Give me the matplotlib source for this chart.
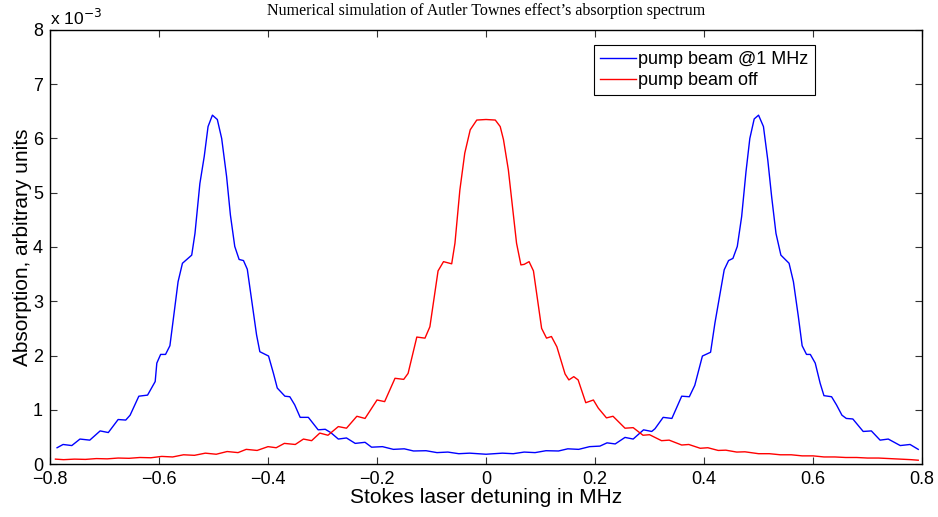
import matplotlib
matplotlib.use('Agg')
import matplotlib.pyplot as plt
from matplotlib.ticker import FuncFormatter

# values, y in units of 1e-3
SCALE = 1e-3

pump_on_x = [-0.787, -0.776, -0.760, -0.745, -0.727, -0.708, -0.693, -0.675,
             -0.661, -0.653, -0.637, -0.621, -0.607, -0.604, -0.597, -0.588,
             -0.580, -0.574, -0.565, -0.557, -0.540, -0.534, -0.525, -0.517,
             -0.510, -0.502, -0.493, -0.485, -0.476, -0.469, -0.461, -0.453,
             -0.445, -0.438, -0.430, -0.421, -0.415, -0.399, -0.390, -0.383,
             -0.369, -0.360, -0.351, -0.341, -0.326, -0.308, -0.295, -0.285,
             -0.271, -0.256, -0.240, -0.222, -0.210, -0.190, -0.170, -0.150,
             -0.133, -0.110, -0.090, -0.070, -0.050, -0.030, 0.000, 0.030,
             0.050, 0.070, 0.090, 0.110, 0.133, 0.150, 0.170, 0.190,
             0.209, 0.222, 0.237, 0.255, 0.270, 0.289, 0.304, 0.310,
             0.325, 0.341, 0.359, 0.373, 0.383, 0.397, 0.412, 0.420,
             0.437, 0.445, 0.453, 0.461, 0.469, 0.477, 0.484, 0.492,
             0.500, 0.509, 0.517, 0.524, 0.532, 0.541, 0.556, 0.564,
             0.573, 0.580, 0.588, 0.595, 0.604, 0.613, 0.620, 0.634,
             0.643, 0.653, 0.661, 0.673, 0.692, 0.707, 0.723, 0.738,
             0.760, 0.778, 0.793]
pump_on_y = [0.30, 0.36, 0.34, 0.46, 0.44, 0.61, 0.58, 0.82,
             0.81, 0.90, 1.25, 1.27, 1.52, 1.86, 2.02, 2.02,
             2.18, 2.65, 3.36, 3.70, 3.85, 4.25, 5.17, 5.67,
             6.22, 6.43, 6.35, 6.00, 5.30, 4.59, 4.01, 3.77,
             3.75, 3.59, 3.02, 2.38, 2.07, 1.99, 1.67, 1.40,
             1.25, 1.24, 1.09, 0.86, 0.86, 0.63, 0.64, 0.58,
             0.46, 0.48, 0.38, 0.40, 0.31, 0.32, 0.27, 0.28,
             0.24, 0.245, 0.21, 0.22, 0.19, 0.20, 0.18, 0.20,
             0.19, 0.22, 0.21, 0.245, 0.24, 0.28, 0.27, 0.32,
             0.33, 0.39, 0.37, 0.49, 0.46, 0.63, 0.60, 0.65,
             0.86, 0.84, 1.25, 1.24, 1.45, 1.99, 2.06, 2.60,
             3.58, 3.75, 3.79, 4.01, 4.56, 5.39, 6.00, 6.36,
             6.43, 6.22, 5.60, 4.93, 4.25, 3.85, 3.70, 3.36,
             2.72, 2.18, 2.02, 2.02, 1.86, 1.49, 1.26, 1.24,
             1.09, 0.90, 0.84, 0.83, 0.60, 0.61, 0.44, 0.46,
             0.34, 0.36, 0.27]

pump_off_x = [-0.790, -0.775, -0.755, -0.735, -0.715, -0.695, -0.675, -0.655,
              -0.635, -0.615, -0.595, -0.575, -0.555, -0.535, -0.515, -0.495,
              -0.475, -0.455, -0.440, -0.420, -0.400, -0.385, -0.370, -0.350,
              -0.335, -0.320, -0.305, -0.290, -0.271, -0.256, -0.237, -0.222,
              -0.200, -0.186, -0.167, -0.151, -0.143, -0.127, -0.112, -0.103,
              -0.088, -0.078, -0.063, -0.057, -0.048, -0.039, -0.029, -0.017,
              0.000, 0.017, 0.026, 0.032, 0.041, 0.056, 0.064, 0.070,
              0.079, 0.087, 0.102, 0.111, 0.120, 0.130, 0.145, 0.152,
              0.161, 0.169, 0.183, 0.197, 0.206, 0.221, 0.233, 0.246,
              0.255, 0.270, 0.288, 0.300, 0.322, 0.336, 0.359, 0.372,
              0.393, 0.407, 0.426, 0.440, 0.460, 0.475, 0.500, 0.520,
              0.540, 0.560, 0.580, 0.600, 0.620, 0.640, 0.660, 0.680,
              0.700, 0.720, 0.740, 0.760, 0.780, 0.793]
pump_off_y = [0.09, 0.08, 0.09, 0.085, 0.10, 0.095, 0.11, 0.105,
              0.12, 0.115, 0.14, 0.13, 0.17, 0.16, 0.20, 0.18,
              0.23, 0.21, 0.27, 0.25, 0.32, 0.30, 0.38, 0.36,
              0.46, 0.43, 0.57, 0.53, 0.69, 0.66, 0.88, 0.84,
              1.18, 1.15, 1.58, 1.56, 1.67, 2.34, 2.32, 2.53,
              3.56, 3.73, 3.69, 4.07, 5.05, 5.73, 6.16, 6.34,
              6.35, 6.34, 6.22, 5.98, 5.42, 4.07, 3.67, 3.68,
              3.73, 3.56, 2.50, 2.32, 2.35, 2.16, 1.66, 1.55,
              1.61, 1.55, 1.13, 1.18, 1.03, 0.85, 0.88, 0.75,
              0.66, 0.67, 0.53, 0.54, 0.43, 0.44, 0.35, 0.36,
              0.29, 0.30, 0.25, 0.255, 0.22, 0.225, 0.19, 0.19,
              0.17, 0.17, 0.15, 0.15, 0.13, 0.13, 0.12, 0.12,
              0.11, 0.11, 0.10, 0.09, 0.08, 0.07]

x_ticks = [-0.8, -0.6, -0.4, -0.2, 0, 0.2, 0.4, 0.6, 0.8]
y_ticks = [0, 1, 2, 3, 4, 5, 6, 7, 8]

plt.rcParams['font.family'] = ['Liberation Sans', 'DejaVu Sans']

fig = plt.figure(figsize=(9.38, 5.17), dpi=100)
ax = fig.add_axes([0.0533, 0.1025, 0.9297, 0.8395])

ax.plot(pump_on_x, [v * SCALE for v in pump_on_y], color='#0000ff', lw=1.0,
        label='pump beam @1 MHz')
ax.plot(pump_off_x, [v * SCALE for v in pump_off_y], color='#ff0000', lw=1.0,
        label='pump beam off')

ax.set_xlim(-0.8, 0.8)
ax.set_ylim(0, 8 * SCALE)
ax.set_xticks(x_ticks)
ax.set_yticks([t * SCALE for t in y_ticks])
ax.xaxis.set_major_formatter(FuncFormatter(lambda v, p: ('%g' % round(v, 1)).replace('-', '\u2212')))
ax.yaxis.set_major_formatter(FuncFormatter(lambda v, p: '%d' % round(v / SCALE)))
ax.tick_params(direction='in', length=5, width=0.8, color='#333333',
               top=True, right=True, labelsize=13, pad=5)
for s in ax.spines.values():
    s.set_linewidth(1.0)

ax.text(0.0, 1.005, 'x 10$^{-3}$', transform=ax.transAxes, fontsize=12.5,
        ha='left', va='bottom')

ax.set_xlabel('Stokes laser detuning in MHz', fontsize=15, labelpad=0)
ax.set_ylabel('Absorption, arbitrary units', fontsize=15, labelpad=1)
ax.set_title("Numerical simulation of Autler Townes effect\u2019s absorption spectrum",
             fontsize=11.5, family=['Liberation Serif', 'DejaVu Serif'], pad=11)

leg = ax.legend(loc='upper right', bbox_to_anchor=(0.877, 0.965), fontsize=13,
                handlelength=2.0, handletextpad=0.1, borderpad=0.35,
                labelspacing=0.2, borderaxespad=0, fancybox=False,
                framealpha=1, edgecolor='black')
leg.get_frame().set_linewidth(0.8)

fig.savefig('out.png', dpi=100)
